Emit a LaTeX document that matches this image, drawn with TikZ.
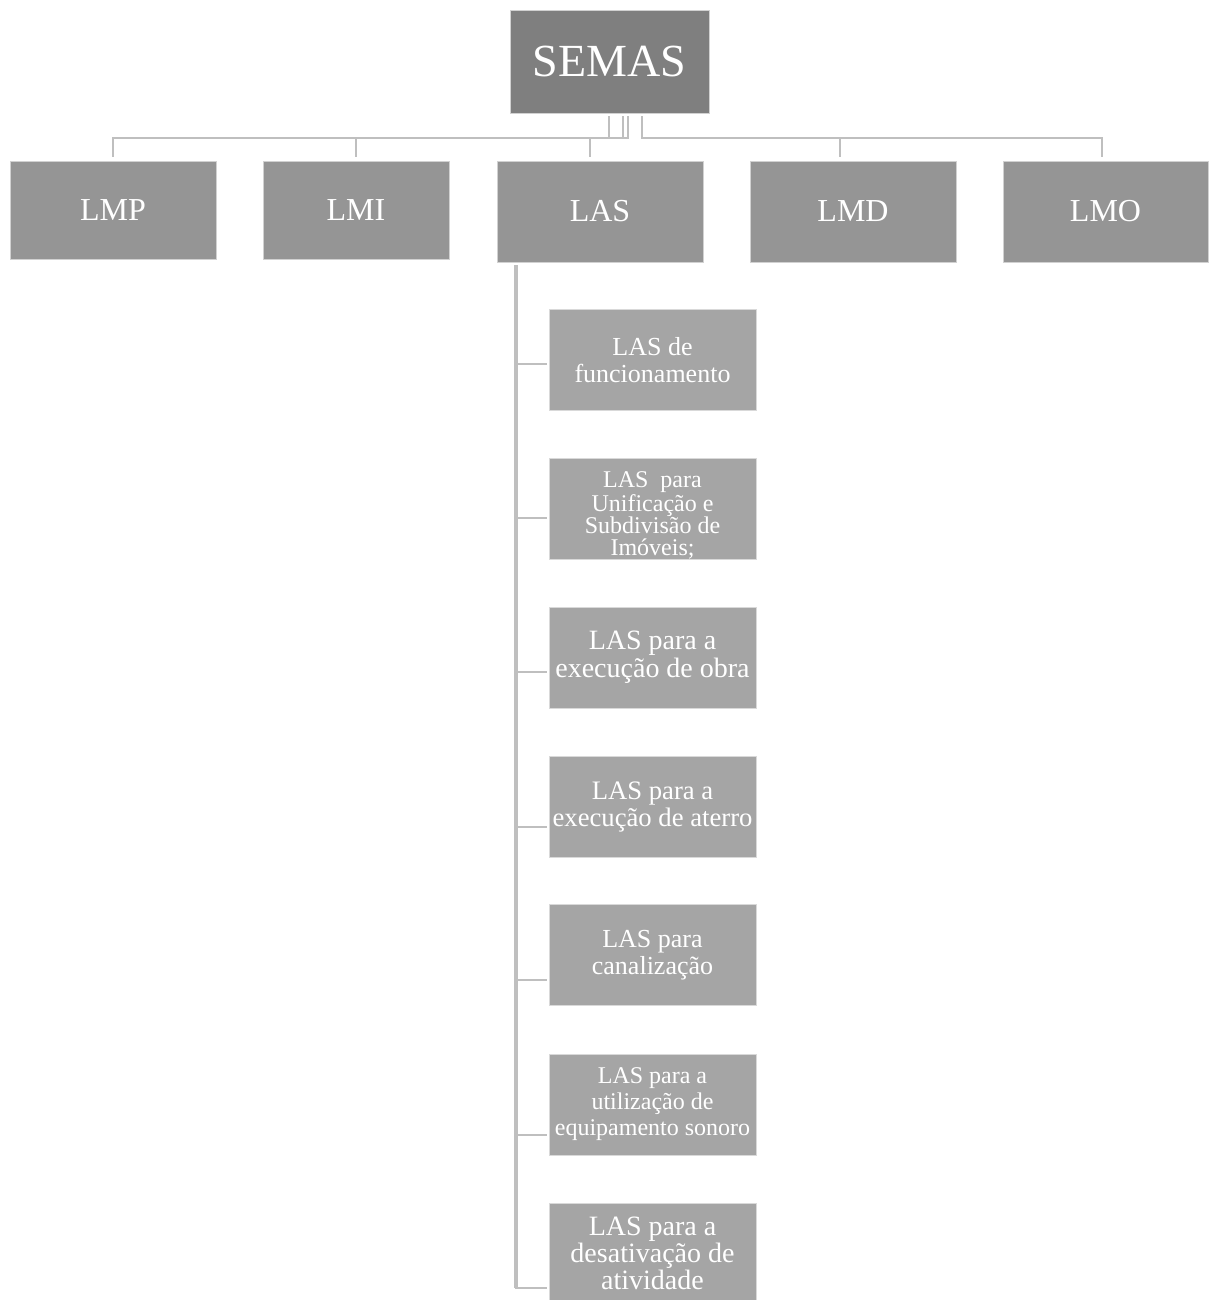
\documentclass[tikz,border=0pt]{standalone}
\usepackage{fontspec}
\setmainfont{Liberation Serif}
\usepackage{tikz}
\usetikzlibrary{calc}
\usepackage{xcolor}

\definecolor{topgray}{HTML}{7F7F7F}
\definecolor{midgray}{HTML}{959595}
\definecolor{subgray}{HTML}{A5A5A5}
\definecolor{linkgray}{HTML}{BFBFBF}

\tikzset{
  topbox/.style={fill=topgray, draw=white!82!black, line width=0.6pt, text=white,
    inner sep=0pt, outer sep=0pt, minimum width=149.25pt, minimum height=77.25pt,
    font=\fontsize{34.5}{38}\selectfont},
  lvlbox/.style={fill=midgray, draw=white!82!black, line width=0.6pt, text=white,
    inner sep=0pt, outer sep=0pt, minimum width=154.5pt, minimum height=75.75pt,
    font=\fontsize{24}{26}\selectfont},
  subbox/.style={fill=subgray, draw=white!85!black, line width=0.6pt, text=white,
    inner sep=0pt, outer sep=0pt, minimum width=155.25pt, minimum height=75.75pt,
    align=center},
  link/.style={draw=linkgray, line width=2pt},
  trunkline/.style={draw=linkgray, line width=2.8pt}
}

\begin{document}
\begin{tikzpicture}[x=0.75pt, y=-0.75pt]
  \useasboundingbox (0,0) rectangle (1208,1300);

  % Top level
  \node[topbox] (semas) at (609.5, 61.5) {SEMAS};

  % Licence types
  \node[lvlbox, minimum height=73.5pt] (lmp) at (113, 210) {LMP};
  \node[lvlbox, minimum width=139.5pt, minimum height=73.5pt] (lmi) at (356, 210) {LMI};
  \node[lvlbox] (las) at (600, 211.5) {LAS};
  \node[lvlbox] (lmd) at (853, 211.5) {LMD};
  \node[lvlbox, minimum width=153.75pt] (lmo) at (1105.5, 211.5) {LMO};

  % LAS subtypes
  \node[subbox, font=\fontsize{19.5}{20.25}\selectfont] (c1) at (652.5, 360) {LAS de\\funcionamento};
  \node[subbox] (c2) at (652.5, 508.5) {};
  \begin{scope}
    \clip (c2.south west) rectangle (c2.north east);
    \node[align=center, text=white, inner sep=0pt, font=\fontsize{18}{16.5}\selectfont] (c2txt)
      at ($(c2.center)+(0,7)$) {LAS\ \ para\\Unificação e\\Subdivisão de\\Imóveis;};
  \end{scope}
  \node[subbox, font=\fontsize{21}{21}\selectfont] (c3) at (652.5, 657.5) {LAS para a\\execução de obra};
  \node[subbox, font=\fontsize{20}{20.25}\selectfont] (c4) at (652.5, 806.5) {LAS para a\\execução de aterro};
  \node[subbox, font=\fontsize{19.5}{20}\selectfont] (c5) at (652.5, 955) {LAS para\\canalização};
  \node[subbox, font=\fontsize{18}{19.5}\selectfont] (c6) at (652.5, 1104.5) {LAS para a\\utilização de\\equipamento sonoro};
  \node[subbox, font=\fontsize{21}{20.25}\selectfont] (c7) at (652.5, 1253.5) {LAS para a\\desativação de\\atividade};

  % Connectors from SEMAS
  \draw[link] ($(semas.south)+(-0.5,3)$) |- ($(lmp.north)+(0,-23)$) -- ($(lmp.north)+(0,-4)$);
  \draw[link] ($(semas.south)+(13.5,3)$) |- ($(lmi.north)+(0,-23)$) -- ($(lmi.north)+(0,-4)$);
  \draw[link] ($(semas.south)+(18.5,3)$) |- ($(las.north)+(-10,-23)$) -- ($(las.north)+(-10,-4)$);
  \draw[link] ($(semas.south)+(32.5,3)$) |- ($(lmd.north)+(-13,-23)$) -- ($(lmd.north)+(-13,-4)$);
  \draw[link] ($(semas.south)+(32.5,3)$) |- ($(lmo.north)+(-3.5,-23)$) -- ($(lmo.north)+(-3.5,-4)$);

  % Connectors from LAS
  \coordinate (trunk) at ($(las.south west)+(19,3)$);
  \coordinate (j1) at ($(c1.west)+(-2,4)$);
  \coordinate (j2) at ($(c2.west)+(-2,9.5)$);
  \coordinate (j3) at ($(c3.west)+(-2,14.5)$);
  \coordinate (j4) at ($(c4.west)+(-2,20.5)$);
  \coordinate (j5) at ($(c5.west)+(-2,25)$);
  \coordinate (j6) at ($(c6.west)+(-2,30.5)$);
  \coordinate (j7) at ($(c7.west)+(-2,34.5)$);

  \draw[trunkline] (trunk) -- (trunk |- j7);
  \draw[link] (trunk |- j1) -- (j1);
  \draw[link] (trunk |- j2) -- (j2);
  \draw[link] (trunk |- j3) -- (j3);
  \draw[link] (trunk |- j4) -- (j4);
  \draw[link] (trunk |- j5) -- (j5);
  \draw[link] (trunk |- j6) -- (j6);
  \draw[link] ($(trunk |- j7)+(-1.4,0)$) -- (j7);
\end{tikzpicture}
\end{document}
